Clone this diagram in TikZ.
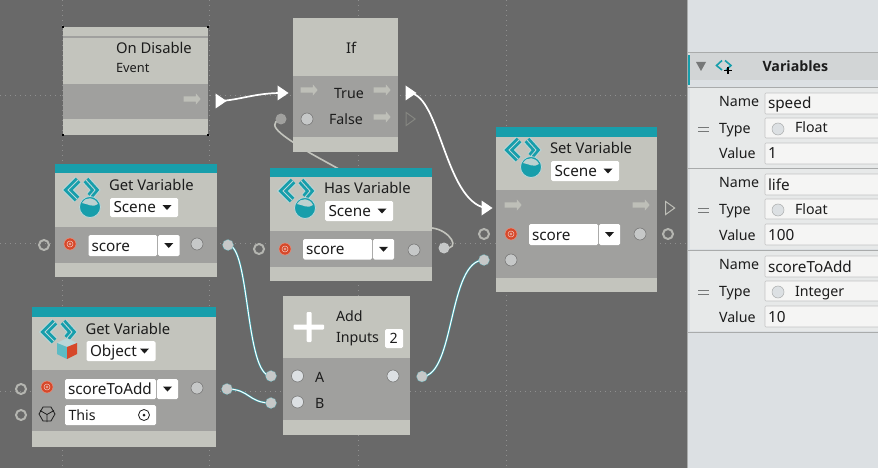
\documentclass[tikz,border=0pt]{standalone}
\usepackage{fontspec}
\setmainfont{Noto Sans}
\newfontfamily\headfont{Open Sans}
\usetikzlibrary{shapes.geometric, shapes.arrows}
\usetikzlibrary{arrows, arrows.meta}

\pgfdeclarelayer{canvas}
\pgfdeclarelayer{wires}
\pgfsetlayers{canvas,wires,main}

\definecolor{canvasgrey}{HTML}{696969}
\definecolor{griddot}{HTML}{8F8F8F}
\definecolor{nodelight}{HTML}{C3C4BD}
\definecolor{nodeband}{HTML}{A0A09E}
\definecolor{nodeteal}{HTML}{179EAB}
\definecolor{iconedge}{HTML}{B9D6D8}
\definecolor{labeldark}{HTML}{1C1C1C}
\definecolor{flowgrey}{HTML}{BEBFB8}
\definecolor{ringgrey}{HTML}{B4B5B0}
\definecolor{portgrey}{HTML}{C6C8C8}
\definecolor{scorered}{HTML}{D6482A}
\definecolor{panelback}{HTML}{DCE0E3}
\definecolor{panelrow}{HTML}{E7E9E9}
\definecolor{panelhead}{HTML}{D2D5D6}
\definecolor{panelline}{HTML}{A9ABAB}
\definecolor{fieldwhite}{HTML}{F5F5F4}

\newcommand{\titlefont}{\fontsize{14.8}{16}\selectfont}
\newcommand{\fieldfont}{\fontsize{15.3}{16}\selectfont}

\tikzset{%
nodepart/.style={rectangle, inner sep=0, outer sep=0, anchor=north west},
widget/.style={rectangle, inner sep=0, outer sep=0, anchor=north west, fill=#1, rounded corners=1.5pt},
widget/.default=white,
panelfield/.style={widget=fieldwhite, draw=panelline!70!white, line width=.6pt, rounded corners=1pt},
labeltext/.style={inner sep=0, outer sep=0, anchor=base west, text=labeldark, font=\fontsize{14.2}{16}\selectfont},
flowicon/.style={single arrow, fill=flowgrey, inner sep=2.4pt, minimum width=11pt, minimum height=17pt, single arrow head extend=3pt, single arrow tip angle=100},
flowtip/.style={isosceles triangle, isosceles triangle stretches, shape border rotate=0, inner sep=0, outer sep=0, minimum width=15pt, minimum height=11pt},
portdot/.style={circle, inner sep=0, minimum size=12pt, fill=portgrey, draw=nodeband!70!black, line width=.5pt},
portring/.style={circle, inner sep=0, minimum size=10pt, draw=ringgrey, line width=2pt},
portknot/.style={circle, inner sep=0, minimum size=11pt, fill=portgrey, draw=nodeteal!70!white, line width=.6pt, densely dotted},
flowwire/.style={white, line width=1.7pt, line cap=round},
datawire/.style={draw=nodeteal!85!white, line width=.5pt, double=white, double distance=1pt},
}

% arguments: name, left, top, right, head bottom, body bottom, bottom
\newcommand{\setgraphnode}[7]{%
\path (#2, #3) node [nodepart, fill=nodelight, minimum width={(#4-#2)*1pt}, minimum height={(#5-#3)*1pt}] (#1head) {} ;
\path (#2, #5) node [nodepart, fill=nodeband, minimum width={(#4-#2)*1pt}, minimum height={(#6-#5)*1pt}] (#1body) {} ;
\path (#2, #6) node [nodepart, fill=nodelight, minimum width={(#4-#2)*1pt}, minimum height={(#7-#6)*1pt}] (#1foot) {} ;
}

% arguments: name, left, top, right, bottom
\newcommand{\settealbar}[5]{%
\path (#2, #3) node [nodepart, fill=nodeteal, minimum width={(#4-#2)*1pt}, minimum height={(#5-#3)*1pt}] (#1teal) {} ;
}

% arguments: name, x, y of middle, text
\newcommand{\setlabel}[4]{%
\path ({#2}, {#3+5}) node [labeltext] (#1) {#4} ;
}

% arguments: x, y
\newcommand{\drawcaret}[2]{%
\fill [labeldark] ({#1-4.5}, {#2-2.5}) -- ({#1+4.5}, {#2-2.5}) -- ({#1}, {#2+2.5}) -- cycle ;
}

% arguments: name, left, top, right, bottom, text
\newcommand{\setmenubox}[6]{%
\path (#2, #3) node [widget, minimum width={(#4-#2)*1pt}, minimum height={(#5-#3)*1pt}] (#1box) {} ;
\setlabel{#1text}{#2+3.5}{(#3+#5)/2}{\fieldfont #6}
\drawcaret{#4-11}{(#3+#5)/2}
}

% arguments: name, left, top, field right, arrow right, bottom, text
\newcommand{\setvarfield}[7]{%
\path (#2, #3) node [widget, minimum width={(#4-#2)*1pt}, minimum height={(#6-#3)*1pt}] (#1box) {} ;
\path ({#4+1}, #3) node [widget, minimum width={(#5-#4-1)*1pt}, minimum height={(#6-#3)*1pt}] (#1menu) {} ;
\setlabel{#1text}{#2+3}{(#3+#6)/2+.5}{\fieldfont #7}
\drawcaret{(#4+#5)/2+.5}{(#3+#6)/2}
}

% arguments: name, x, y
\newcommand{\setscoredot}[3]{%
\path (#2, #3) node [circle, inner sep=0, minimum size=12pt, fill=scorered, draw=scorered!60!white, line width=.5pt] (#1) {} ;
\draw [white!70!scorered, line width=.5pt] (#2, #3) circle (3pt) ;
\draw [white!70!scorered, line width=.4pt] (#2, #3) circle (1.2pt) ;
}

% chevrons of a variable icon; arguments: x, y of the round part
\newcommand{\drawchevrons}[2]{%
\draw [iconedge, line width=8.5pt] ({#1-12}, {#2-27}) -- ({#1-22}, {#2-17}) -- ({#1-13}, {#2-8}) ;
\draw [iconedge, line width=8.5pt] ({#1-4}, {#2-27}) -- ({#1+5}, {#2-17}) -- ({#1}, {#2-11}) ;
\draw [nodeteal, line width=6.5pt] ({#1-12}, {#2-27}) -- ({#1-22}, {#2-17}) -- ({#1-13}, {#2-8}) ;
\draw [nodeteal, line width=6.5pt] ({#1-4}, {#2-27}) -- ({#1+5}, {#2-17}) -- ({#1}, {#2-11}) ;
\draw [iconedge, line width=.9pt] ({#1-12}, {#2-27}) -- ({#1-22}, {#2-17}) -- ({#1-13}, {#2-8}) ;
\draw [iconedge, line width=.9pt] ({#1-4}, {#2-27}) -- ({#1+5}, {#2-17}) -- ({#1}, {#2-11}) ;
}

% arguments: x, y
\newcommand{\drawglobeicon}[2]{%
\drawchevrons{#1}{#2}
\draw [iconedge, fill=nodeteal, line width=.8pt] (#1, #2) circle (10.5pt) ;
\fill [iconedge!70!nodelight] ({#1-8}, {#2-4}) .. controls ({#1-4}, {#2-11}) and ({#1+5}, {#2-10}) .. ({#1+8}, {#2-3}) .. controls ({#1+3}, {#2+1}) and ({#1-2}, {#2-3}) .. cycle ;
}

% arguments: x, y
\newcommand{\drawcubeicon}[2]{%
\drawchevrons{#1}{#2}
\fill [iconedge] ({#1-10}, {#2-6}) -- (#1, {#2-11}) -- ({#1+10}, {#2-6}) -- (#1, {#2-2}) -- cycle ;
\fill [nodeteal!70!white] ({#1-10}, {#2-6}) -- (#1, {#2-2}) -- (#1, {#2+10}) -- ({#1-10}, {#2+5}) -- cycle ;
\fill [scorered] ({#1+10}, {#2-6}) -- (#1, {#2-2}) -- (#1, {#2+10}) -- ({#1+10}, {#2+5}) -- cycle ;
}

\begin{document}
\begin{tikzpicture}[x=1pt, y=-1pt]

\useasboundingbox (0, 0) rectangle (878, 468) ;

\begin{pgfonlayer}{canvas}
\fill [canvasgrey] (0, 0) rectangle (878, 468) ;
\foreach \gridx in {62, 209.5, 358, 506}
	\draw [griddot, line width=.7pt, dash pattern=on 1pt off 4pt] (\gridx, 0) -- (\gridx, 468) ;
\foreach \gridy in {95, 243, 391}
	\draw [griddot, line width=.7pt, dash pattern=on 1pt off 4pt] (0, \gridy) -- (687, \gridy) ;
\end{pgfonlayer}

% graph nodes

\setgraphnode{disable}{63}{27}{208}{84}{119}{135}
\draw [nodeband, line width=2pt] (63, 37) -- (208, 37) ;
\foreach \cornerx/\cornery in {63/27, 208/27, 63/135, 208/135}
	\fill [black] ({\cornerx-1}, {\cornery-1}) rectangle ({\cornerx+1}, {\cornery+1}) ;
\setlabel{disabletitle}{116}{49}{\titlefont On Disable}
\path (116, 72.5) node [labeltext, font=\fontsize{12.8}{14}\selectfont] (disableevent) {Event} ;
\path (191, 99) node [flowicon] (disableflow) {} ;

\setgraphnode{if}{293}{18}{398}{76}{137}{152}
\setlabel{iftitle}{346}{49}{\titlefont If}
\setlabel{iftrue}{334}{94}{True}
\setlabel{iffalse}{329}{120}{False}
\path (308, 90) node [flowicon] (ifflowin) {} ;
\path (381, 90) node [flowicon] (ifflowtrue) {} ;
\path (381, 117) node [flowicon] (ifflowfalse) {} ;
\path (307, 119) node [portdot] (ifport) {} ;

\setgraphnode{getscene}{55}{173}{217}{227}{263}{277}
\settealbar{getscene}{55}{164}{217}{173}
\drawglobeicon{90}{207}
\setlabel{getscenetitle}{109}{185}{\titlefont Get Variable}
\setmenubox{getscenemode}{110}{198}{178}{217}{Scene}
\setscoredot{getscenedot}{70}{244}
\setvarfield{getscenevar}{88.5}{235}{157}{179.5}{256}{score}
\path (197, 244) node [portdot] (getsceneport) {} ;

\setgraphnode{has}{270}{177}{432}{231}{267}{281}
\settealbar{has}{270}{168}{432}{177}
\drawglobeicon{305}{208}
\setlabel{hastitle}{324}{188.5}{\titlefont Has Variable}
\setmenubox{hasmode}{325}{201}{393}{221}{Scene}
\setscoredot{hasdot}{285}{249}
\setvarfield{hasvar}{303}{239}{372}{394}{259.5}{score}
\path (414, 250) node [portdot] (hasport) {} ;

\setgraphnode{getobject}{32}{317}{216}{370}{431}{447}
\settealbar{getobject}{32}{307}{216}{317}
\drawcubeicon{67}{349}
\setlabel{getobjecttitle}{85.5}{329}{\titlefont Get Variable}
\setmenubox{getobjectmode}{86.5}{341}{155.5}{361}{Object}
\setscoredot{getobjectdot}{47}{387}
\setvarfield{getobjectvar}{65}{379}{156}{178}{399}{scoreToAdd}
\path (197, 388) node [portdot] (getobjectport) {} ;
\path (47, 414) node [regular polygon, regular polygon sides=6, draw=labeldark, line width=.8pt, inner sep=0, minimum size=16pt] (getobjectcube) {} ;
\draw [labeldark, line width=.8pt] (47, 414.5) -- (40, 410.5) (47, 414.5) -- (54, 410.5) (47, 414.5) -- (47, 422) ;
\path (65, 405) node [widget, minimum width=91pt, minimum height=20pt] (getobjectthisbox) {} ;
\setlabel{getobjectthis}{68.5}{415}{This}
\path (144, 415) node [circle, draw=labeldark, line width=.8pt, inner sep=0, minimum size=11pt] (getobjecttarget) {} ;
\fill [labeldark] (144, 415) circle (1.5pt) ;

\setgraphnode{add}{283}{296}{410}{358}{420}{435}
\fill [white, rounded corners=1pt] (306.5, 312) rectangle (311.5, 342) ;
\fill [white, rounded corners=1pt] (293.5, 324.5) rectangle (324, 329.5) ;
\setlabel{addtitle}{336}{316}{Add}
\setlabel{addinputs}{336}{337}{Inputs}
\path (385, 329) node [widget, minimum width=18pt, minimum height=19pt] (addcountbox) {} ;
\setlabel{addcount}{389.5}{338.5}{2}
\path (297.5, 376) node [portdot, fill=panelback] (addporta) {} ;
\path (297.5, 402) node [portdot, fill=panelback] (addportb) {} ;
\path (393, 376) node [portdot, fill=panelback] (addportout) {} ;
\setlabel{adda}{315}{377}{A}
\setlabel{addb}{315}{403}{B}

\setgraphnode{set}{496}{137}{657}{190}{278}{292}
\settealbar{set}{496}{127}{657}{137}
\drawglobeicon{531}{167}
\setlabel{settitle}{550}{148.5}{\titlefont Set Variable}
\setmenubox{setmode}{551}{161}{619}{181}{Scene}
\path (512, 205) node [flowicon] (setflowin) {} ;
\path (640, 205) node [flowicon] (setflowout) {} ;
\setscoredot{setdot}{511}{234}
\setvarfield{setvar}{529}{224}{598}{620}{245}{score}
\path (640, 234) node [portdot] (setport) {} ;
\path (511, 260) node [portdot] (setportin) {} ;

% flow ports and knots out of the nodes

\path (219.5, 101) node [flowtip, fill=white] (disableout) {} ;
\path (281.5, 93) node [flowtip, fill=white] (ifin) {} ;
\path (409.5, 93) node [flowtip, fill=white] (iftrueout) {} ;
\path (409.5, 119) node [flowtip, draw=flowgrey!70!black, line width=1pt, minimum width=13pt, minimum height=9pt] (iffalseout) {} ;
\path (485.5, 208) node [flowtip, fill=white] (setin) {} ;
\path (669, 208) node [flowtip, draw=flowgrey, line width=1pt, minimum width=13pt, minimum height=9pt] (setout) {} ;

\path (281, 119) node [portknot, fill=nodeband, draw=none] (ifknot) {} ;
\path (44, 245) node [portring] (getscenering) {} ;
\path (228, 245) node [portknot] (getsceneknot) {} ;
\path (259, 249) node [portring] (hasring) {} ;
\path (444, 248) node [portknot, draw=none] (hasknot) {} ;
\path (21, 389) node [portring] (getobjectring) {} ;
\path (21, 415) node [portring] (getobjectringb) {} ;
\path (227, 389) node [portknot] (getobjectknot) {} ;
\path (271, 376) node [portknot] (addknota) {} ;
\path (271, 403) node [portknot] (addknotb) {} ;
\path (422, 376.5) node [portknot] (addknotout) {} ;
\path (484, 234) node [portring] (setringin) {} ;
\path (668, 234) node [portring] (setringout) {} ;
\path (484, 260) node [portknot] (setknot) {} ;

% wires go under the nodes

\begin{pgfonlayer}{wires}
\draw [flowwire] (disableout.center) .. controls (240, 100) and (255, 93) .. (ifin.center) ;
\draw [flowwire] (iftrueout.center) .. controls (440, 95) and (445, 200) .. (setin.center) ;
\draw [nodelight, line width=1.6pt] (hasknot.center) .. controls (462, 250) and (450, 230) .. (432, 228) .. controls (380, 190) and (340, 170) .. (310, 153) .. controls (290, 140) and (262, 125) .. (ifknot.center) ;
\draw [datawire] (getsceneknot.center) .. controls (250, 245) and (245, 376) .. (addknota.center) ;
\draw [datawire] (getobjectknot.center) .. controls (250, 389) and (248, 403) .. (addknotb.center) ;
\draw [datawire] (addknotout.center) .. controls (455, 376) and (448, 260) .. (setknot.center) ;
\end{pgfonlayer}

% variables panel

\fill [panelback] (687, 0) rectangle (878, 468) ;
\draw [panelline, line width=1.5pt] (687.5, 0) -- (687.5, 468) ;
\path (690, 53) node [nodepart, fill=panelhead, minimum width=188pt, minimum height=27pt] (varhead) {} ;
\draw [panelline, line width=.8pt] (688, 52.5) -- (878, 52.5) ;
\path (688, 55) node [nodepart, fill=nodeteal, minimum width=2pt, minimum height=30pt] (varmark) {} ;
\fill [panelline!70!black] (696, 62) -- (706, 62) -- (701, 71) -- cycle ;
\draw [nodeteal, line width=1.6pt] (722, 60.5) -- (716.5, 65.5) -- (722, 70) ;
\draw [nodeteal, line width=1.6pt] (725, 60.5) -- (731, 65.5) -- (726, 70) ;
\draw [black, line width=1.5pt] (724, 70.5) -- (732, 70.5) (728, 67) -- (728, 74) ;
\setlabel{vartitle}{762.5}{66.5}{\headfont\bfseries\fontsize{14.2}{16}\selectfont Variables}

\foreach \rowtop/\rowname/\rowtype/\rowvalue in {87/speed/Float/1, 168/life/Float/100, 250/scoreToAdd/Integer/10} {
	\path (690, \rowtop) node [nodepart, fill=panelrow, minimum width=188pt, minimum height={81pt}] (row\rowtop) {} ;
	\draw [panelline, line width=.8pt] (688, \rowtop) -- (878, \rowtop) ;
	\setlabel{rowname\rowtop}{719}{\rowtop+14.5}{Name}
	\setlabel{rowtype\rowtop}{719}{\rowtop+41.5}{Type}
	\setlabel{rowvalue\rowtop}{719}{\rowtop+67}{Value}
	\path (765, {\rowtop+6}) node [panelfield, minimum width=115pt, minimum height=21pt] (rownamebox\rowtop) {} ;
	\path (765, {\rowtop+31}) node [panelfield, minimum width=115pt, minimum height=20pt] (rowtypebox\rowtop) {} ;
	\path (765, {\rowtop+56}) node [panelfield, minimum width=115pt, minimum height=21pt] (rowvaluebox\rowtop) {} ;
	\setlabel{rownametext\rowtop}{768}{\rowtop+17}{\fieldfont \rowname}
	\setlabel{rowvaluetext\rowtop}{768}{\rowtop+67}{\fieldfont \rowvalue}
	\path (778, {\rowtop+42}) node [portdot, draw=panelline, fill=panelback] (rowtypeport\rowtop) {} ;
	\setlabel{rowtypetext\rowtop}{795}{\rowtop+41}{\rowtype}
	\draw [panelline!70!black, line width=.9pt] (698, {\rowtop+40}) -- (709, {\rowtop+40}) (698, {\rowtop+44}) -- (709, {\rowtop+44}) ;
}
\draw [panelline, line width=.8pt] (688, 332) -- (878, 332) ;

\end{tikzpicture}
\end{document}
